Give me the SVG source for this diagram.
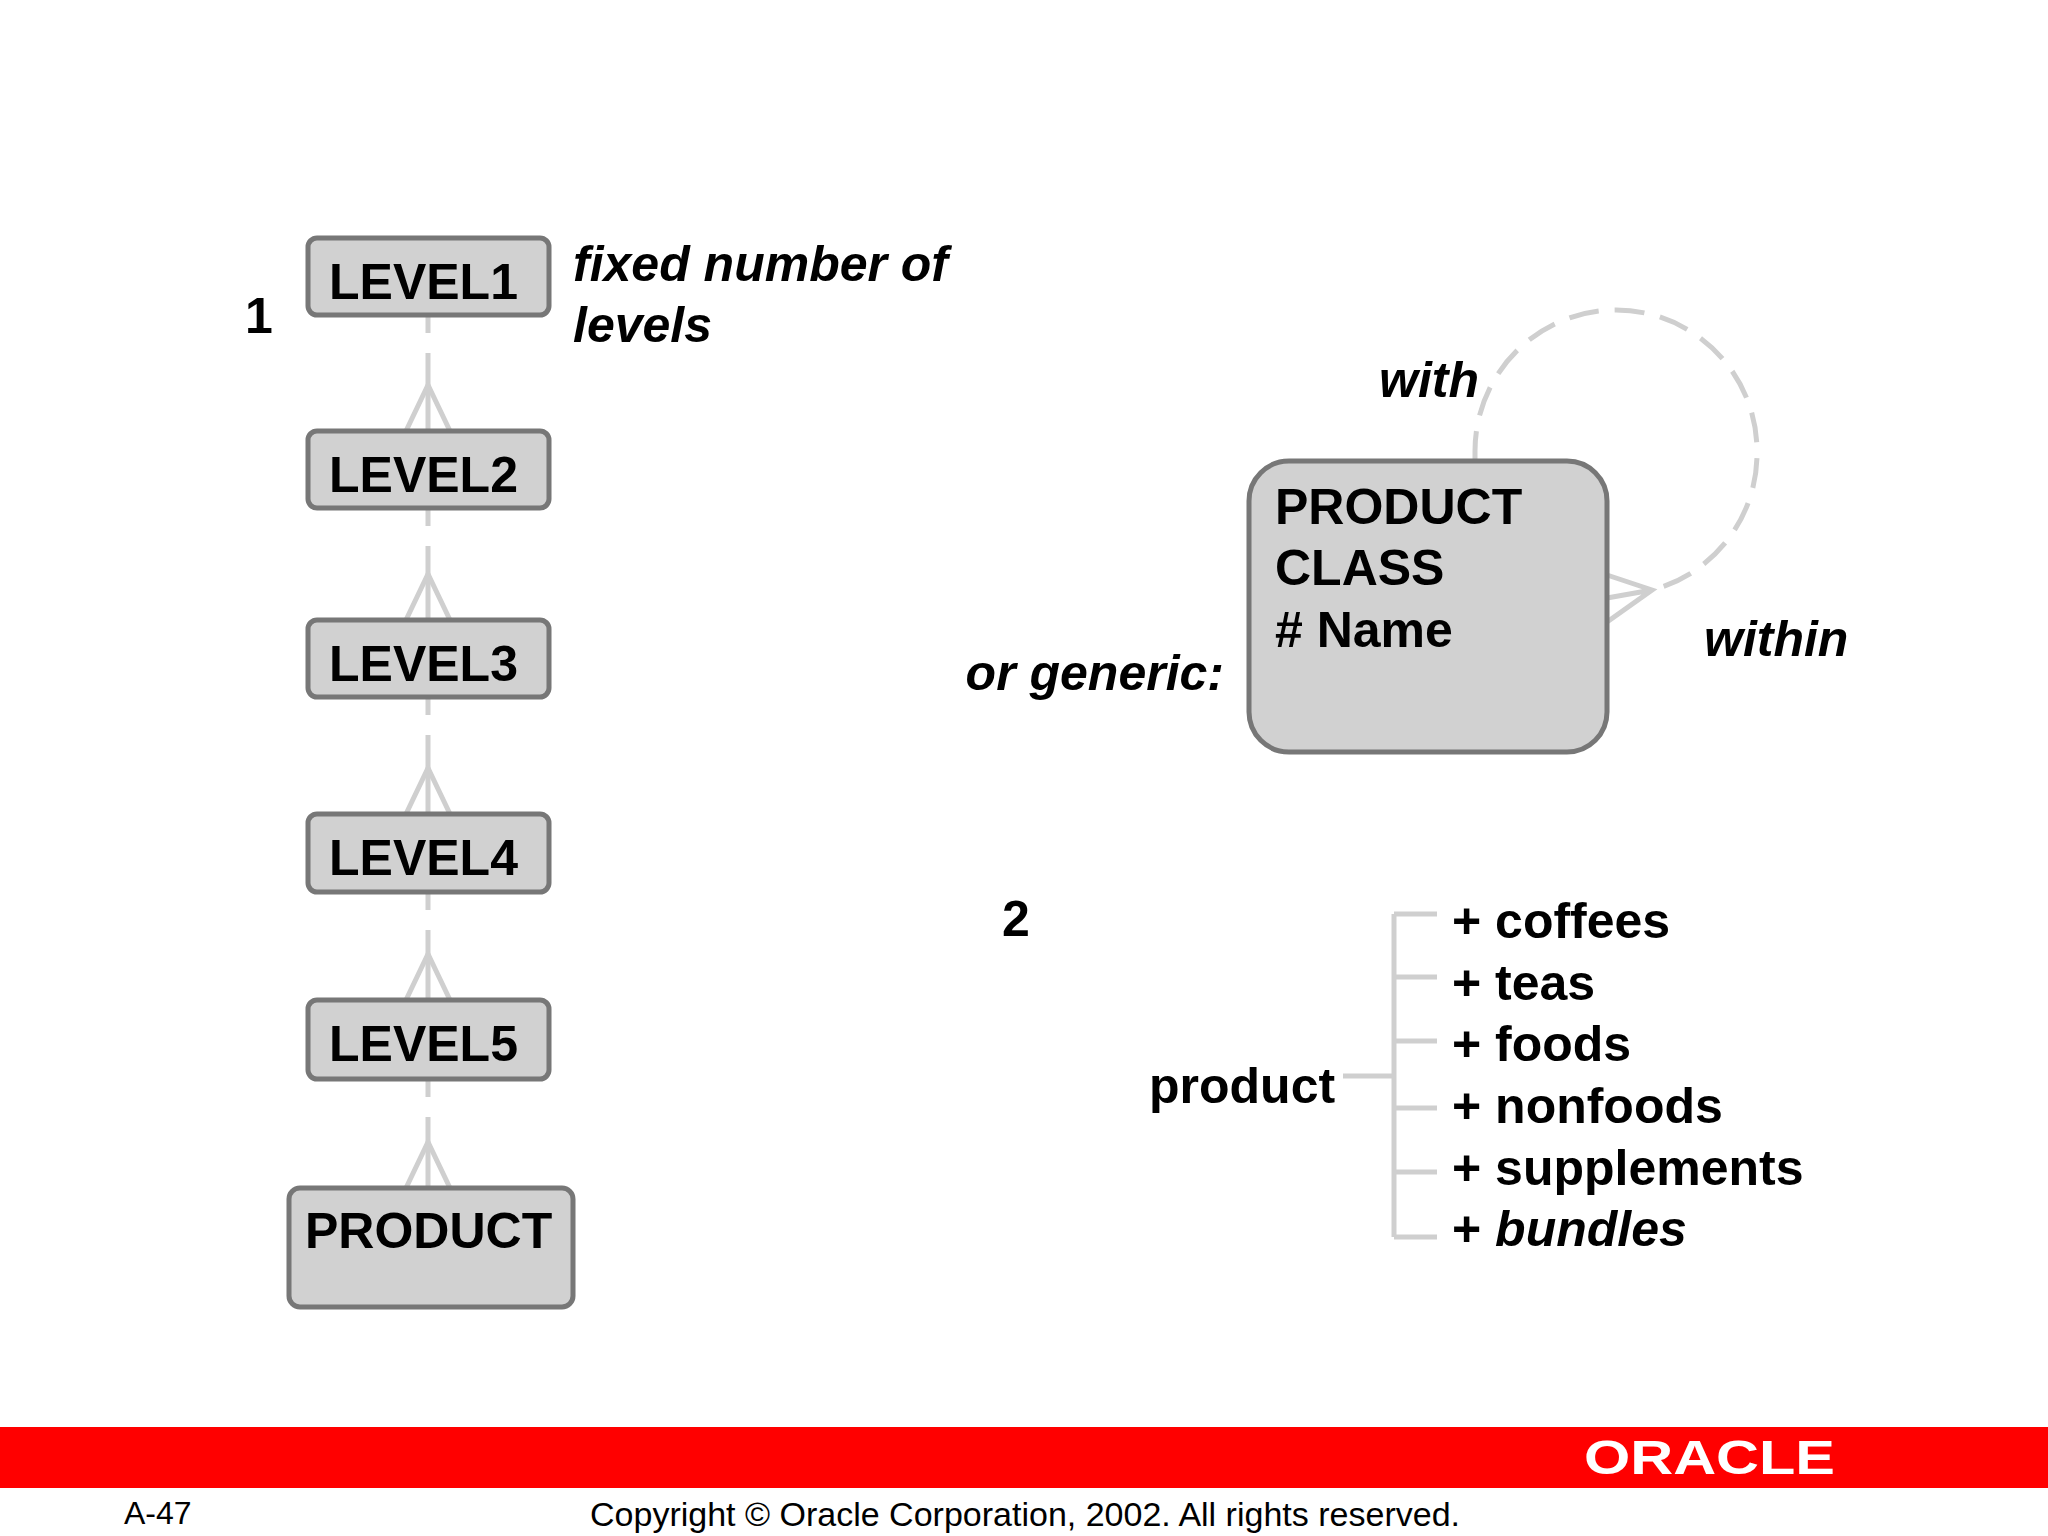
<svg xmlns="http://www.w3.org/2000/svg" width="2048" height="1536" viewBox="0 0 2048 1536">
<style>
.box{fill:#d1d1d1;stroke:#777;stroke-width:5}
.t{font-family:"Liberation Sans",Arial,sans-serif;font-weight:bold;fill:#000}
.bt{font-size:50px}
.it{font-style:italic}
.c{stroke:#cfcfcf;stroke-width:5;fill:none}
.d{stroke-dasharray:18 20 300}
</style>
<rect width="2048" height="1536" fill="#fff"/>
<g id="connectors">
<line class="c d" x1="428" y1="315" x2="428" y2="431"/>
<line class="c d" x1="428" y1="508" x2="428" y2="620"/>
<line class="c d" x1="428" y1="697" x2="428" y2="814"/>
<line class="c d" x1="428" y1="892" x2="428" y2="1000"/>
<line class="c d" x1="428" y1="1079" x2="428" y2="1188"/>
<path class="c" d="M406 431L428 385L450 431M406 620L428 574L450 620M406 814L428 768L450 814M406 1000L428 954L450 1000M406 1188L428 1142L450 1188"/>
<path class="c" d="M1475 461L1475 451A141 141 0 0 1 1757 451A141 141 0 0 1 1652 590" stroke-dasharray="30 16"/>
<path class="c" d="M1607 575L1652 590L1607 622M1607 598L1652 590"/>
<path class="c" d="M1343 1076H1394M1394 914V1237M1394 914H1437M1394 977H1437M1394 1041H1437M1394 1108H1437M1394 1172H1437M1394 1237H1437" stroke-width="4"/>
</g>
<g id="level1"><rect class="box" x="308" y="238" width="241" height="77" rx="9"/><text class="t bt" x="329" y="299">LEVEL1</text></g>
<g id="level2"><rect class="box" x="308" y="431" width="241" height="77" rx="9"/><text class="t bt" x="329" y="492">LEVEL2</text></g>
<g id="level3"><rect class="box" x="308" y="620" width="241" height="77" rx="9"/><text class="t bt" x="329" y="681">LEVEL3</text></g>
<g id="level4"><rect class="box" x="308" y="814" width="241" height="78" rx="9"/><text class="t bt" x="329" y="875">LEVEL4</text></g>
<g id="level5"><rect class="box" x="308" y="1000" width="241" height="79" rx="9"/><text class="t bt" x="329" y="1061">LEVEL5</text></g>
<g id="product"><rect class="box" x="289" y="1188" width="284" height="119" rx="11"/><text class="t bt" x="305" y="1248">PRODUCT</text></g>
<g id="productclass"><rect class="box" x="1249" y="461" width="358" height="291" rx="40"/>
<text class="t bt" x="1275" y="524">PRODUCT</text><text class="t bt" x="1275" y="585">CLASS</text><text class="t bt" x="1275" y="647"># Name</text></g>
<g id="labels">
<text class="t bt" x="245" y="333">1</text>
<text class="t bt it" x="573" y="281">fixed number of</text>
<text class="t bt it" x="573" y="342">levels</text>
<text class="t bt it" x="1379" y="397">with</text>
<text class="t bt it" x="1704" y="656">within</text>
<text class="t bt it" x="1224" y="690" text-anchor="end">or generic:</text>
<text class="t bt" x="1002" y="936">2</text>
<text class="t bt" x="1149" y="1103">product</text>
<text class="t bt" x="1452" y="938">+ coffees</text>
<text class="t bt" x="1452" y="1000">+ teas</text>
<text class="t bt" x="1452" y="1061">+ foods</text>
<text class="t bt" x="1452" y="1123">+ nonfoods</text>
<text class="t bt" x="1452" y="1185">+ supplements</text>
<text class="t bt" x="1452" y="1246">+ <tspan font-style="italic">bundles</tspan></text>
</g>
<g id="footer">
<rect x="0" y="1427" width="2048" height="61" fill="#ff0000"/>
<text class="t" x="1584" y="1474" font-size="48" style="fill:#fff" textLength="251" lengthAdjust="spacingAndGlyphs">ORACLE</text>
<text x="124" y="1524" font-family="Liberation Sans,Arial,sans-serif" font-size="32">A-47</text>
<text x="590" y="1526" font-family="Liberation Sans,Arial,sans-serif" font-size="34" textLength="870" lengthAdjust="spacingAndGlyphs">Copyright © Oracle Corporation, 2002. All rights reserved.</text>
</g>
</svg>
